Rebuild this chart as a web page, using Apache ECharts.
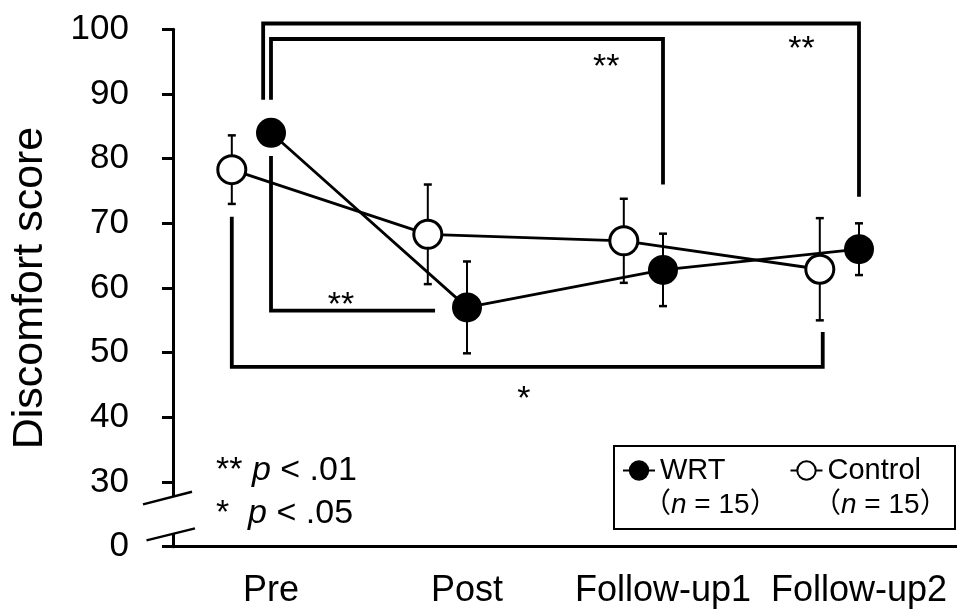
<!DOCTYPE html>
<html>
<head>
<meta charset="utf-8">
<script src="https://cdn.jsdelivr.net/npm/echarts@6/dist/echarts.min.js"></script>
<style>
  html, body { margin: 0; padding: 0; background: #fff; }
  #chart { width: 957px; height: 616px; }
</style>
</head>
<body>
<div id="chart"></div>
<script>
// Measurement occasions
const categories = ['Pre', 'Post', 'Follow-up1', 'Follow-up2'];

// Discomfort score: mean and SD per occasion
const wrtMean = [84.0, 57.0, 62.8, 66.0];
const wrtSD = [2.0, 7.1, 5.6, 4.0];
const controlMean = [78.3, 68.3, 67.3, 62.9];
const controlSD = [5.3, 7.7, 6.5, 7.9];

// Y axis: 0 is drawn one step below 30, past an axis break
const yTickValues = [20, 30, 40, 50, 60, 70, 80, 90, 100];
const yTickLabels = ['0', '30', '40', '50', '60', '70', '80', '90', '100'];

// Significance brackets (x in occasion index, y in score units) and their marks
const bracketPaths = [
  [[-0.04, 89.1], [-0.04, 100.9], [3, 100.9], [3, 74.1]],
  [[0, 89.1], [0, 98.5], [2, 98.5], [2, 76.0]],
  [[0, 80.4], [0, 56.5], [0.837, 56.5]],
  [[-0.2, 71.0], [-0.2, 47.8], [2.815, 47.8], [2.815, 53.2]]
];
const bracketMarks = ['**', '**', '**', '*'];
const bracketMarkAt = [[2.707, 96.9], [1.71, 94.05], [0.357, 57.3], [1.29, 42.7]];

const FONT = '"Liberation Sans", Arial, "Noto Sans CJK JP", sans-serif';
const controlShift = -0.2;   // Control markers sit slightly left of each occasion

const chart = echarts.init(document.getElementById('chart'), null, { renderer: 'canvas' });

function errorBarData(means, sds, shift) {
  return means.map((m, i) => [i + shift, m - sds[i], m + sds[i]]);
}

function renderErrorBar(params, api) {
  const x = api.value(0);
  const top = api.coord([x, api.value(2)]);
  const bot = api.coord([x, api.value(1)]);
  const hw = 4;
  const st = { stroke: '#000', lineWidth: 2 };
  return {
    type: 'group',
    children: [
      { type: 'line', shape: { x1: top[0], y1: top[1], x2: bot[0], y2: bot[1] }, style: st },
      { type: 'line', shape: { x1: top[0] - hw, y1: top[1], x2: top[0] + hw, y2: top[1] }, style: { stroke: '#000', lineWidth: 2.5 } },
      { type: 'line', shape: { x1: bot[0] - hw, y1: bot[1], x2: bot[0] + hw, y2: bot[1] }, style: { stroke: '#000', lineWidth: 2.5 } }
    ]
  };
}

function renderBracket(params, api) {
  const pts = bracketPaths[params.dataIndex].map(p => api.coord(p));
  const lab = api.coord(bracketMarkAt[params.dataIndex]);
  return {
    type: 'group',
    children: [
      { type: 'polyline', shape: { points: pts },
        style: { stroke: '#000', lineWidth: 3.8, fill: null, lineJoin: 'miter', lineCap: 'butt' } },
      { type: 'text', x: lab[0], y: lab[1],
        style: { text: bracketMarks[params.dataIndex], fill: '#000', font: '34px ' + FONT,
                 align: 'center', verticalAlign: 'middle' } }
    ]
  };
}

const option = {
  animation: false,
  backgroundColor: '#fff',
  grid: { left: 173, right: 0, top: 29.3, bottom: 69.3, containLabel: false },
  xAxis: [
    {
      type: 'category',
      data: categories,
      boundaryGap: true,
      axisLine: { show: true, onZero: false, lineStyle: { color: '#000', width: 3 } },
      axisTick: { show: false },
      axisLabel: { color: '#000', fontSize: 36, fontFamily: FONT, margin: 26, interval: 0 },
      splitLine: { show: false }
    },
    {
      type: 'value',
      min: -0.5, max: 3.5,
      show: false
    }
  ],
  yAxis: {
    type: 'value',
    min: 20, max: 100, interval: 10,
    name: 'Discomfort score',
    nameLocation: 'middle',
    nameRotate: 90,
    nameGap: 121,
    nameTextStyle: { color: '#000', fontSize: 43, fontFamily: FONT },
    axisLine: { show: true, onZero: false, lineStyle: { color: '#000', width: 3 } },
    axisTick: { show: true, length: 11, inside: false, lineStyle: { color: '#000', width: 3 } },
    axisLabel: {
      color: '#000', fontSize: 35, fontFamily: FONT, margin: 44,
      formatter: v => {
        const k = yTickValues.indexOf(v);
        return k >= 0 ? yTickLabels[k] : '';
      }
    },
    splitLine: { show: false }
  },
  legend: {
    data: ['WRT', 'Control'],
    left: 614, top: 446,
    padding: [10, 34, 44, 8],
    borderColor: '#000', borderWidth: 2,
    itemWidth: 32, itemHeight: 23, itemGap: 64,
    textStyle: { color: '#000', fontSize: 29, fontFamily: FONT },
    itemStyle: { borderWidth: 2 },
    lineStyle: { width: 2 }
  },
  series: [
    {
      type: 'custom',
      name: 'WRT SD',
      xAxisIndex: 1,
      z: 1,
      renderItem: renderErrorBar,
      data: errorBarData(wrtMean, wrtSD, 0)
    },
    {
      type: 'custom',
      name: 'Control SD',
      xAxisIndex: 1,
      z: 1,
      renderItem: renderErrorBar,
      data: errorBarData(controlMean, controlSD, controlShift)
    },
    {
      type: 'line',
      name: 'Control',
      xAxisIndex: 1,
      z: 3,
      data: controlMean.map((m, i) => [i + controlShift, m]),
      symbol: 'circle',
      symbolSize: 28,
      itemStyle: { color: '#fff', borderColor: '#000', borderWidth: 3 },
      lineStyle: { color: '#000', width: 2.8 }
    },
    {
      type: 'line',
      name: 'WRT',
      xAxisIndex: 1,
      z: 4,
      data: wrtMean.map((m, i) => [i, m]),
      symbol: 'circle',
      symbolSize: 30,
      itemStyle: { color: '#000', borderColor: '#000', borderWidth: 0 },
      lineStyle: { color: '#000', width: 2.8 }
    },
    {
      type: 'custom',
      name: 'Significance',
      xAxisIndex: 1,
      z: 5,
      clip: false,
      renderItem: renderBracket,
      data: bracketPaths.map(p => p[0])
    }
  ]
};

chart.setOption(option);

// Axis break on the y axis plus the text annotations
const axisX = chart.convertToPixel({ xAxisIndex: 1 }, -0.5);
const breakTop = chart.convertToPixel({ yAxisIndex: 0 }, 27.7);
const breakBot = chart.convertToPixel({ yAxisIndex: 0 }, 22.0);

chart.setOption({
  graphic: [
    { id: 'gap', type: 'rect', z: 100,
      shape: { x: axisX - 4, y: breakTop, width: 8, height: breakBot - breakTop },
      style: { fill: '#fff' } },
    { id: 'break1', type: 'line', z: 101,
      shape: { x1: axisX - 30, y1: breakTop + 7.5, x2: axisX + 19, y2: breakTop - 5.2 },
      style: { stroke: '#000', lineWidth: 2.5 } },
    { id: 'break2', type: 'line', z: 101,
      shape: { x1: axisX - 26.5, y1: breakBot + 6.6, x2: axisX + 22, y2: breakBot - 5.4 },
      style: { stroke: '#000', lineWidth: 2.5 } },
    { id: 'p01', type: 'text', z: 101, x: 216, y: 471,
      style: { text: '** {i|p} < .01', fill: '#000', font: '34px ' + FONT, verticalAlign: 'middle',
               rich: { i: { fontStyle: 'italic', fontSize: 34, fontFamily: FONT } } } },
    { id: 'p05', type: 'text', z: 101, x: 216, y: 514,
      style: { text: '*  {i|p} < .05', fill: '#000', font: '34px ' + FONT, verticalAlign: 'middle',
               rich: { i: { fontStyle: 'italic', fontSize: 34, fontFamily: FONT } } } },
    { id: 'nWRT', type: 'text', z: 101, x: 643, y: 505,
      style: { text: '（{i|n} = 15）', fill: '#000', font: '28px ' + FONT, verticalAlign: 'middle',
               rich: { i: { fontStyle: 'italic', fontSize: 28, fontFamily: FONT } } } },
    { id: 'nControl', type: 'text', z: 101, x: 813, y: 505,
      style: { text: '（{i|n} = 15）', fill: '#000', font: '28px ' + FONT, verticalAlign: 'middle',
               rich: { i: { fontStyle: 'italic', fontSize: 28, fontFamily: FONT } } } }
  ]
});
</script>
</body>
</html>
